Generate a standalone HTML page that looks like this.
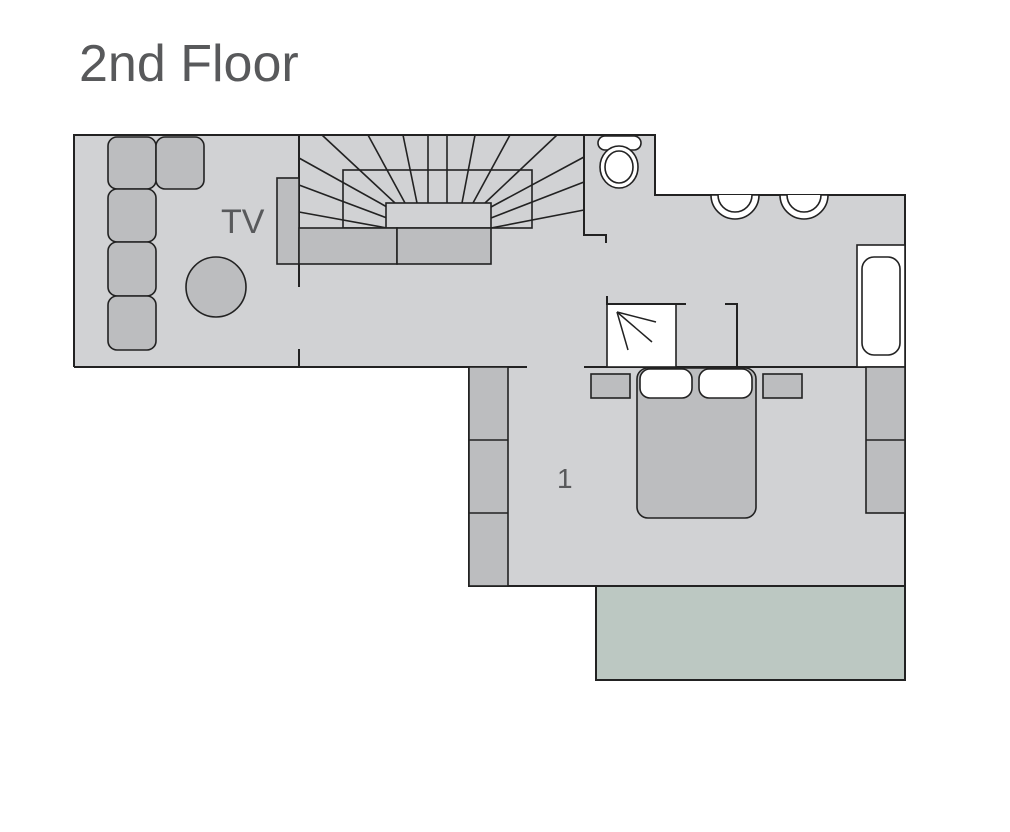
<!DOCTYPE html>
<html><head><style>body{margin:0;background:#fff}svg{display:block}</style></head><body>
<svg width="1010" height="832" viewBox="0 0 1010 832" xmlns="http://www.w3.org/2000/svg" font-family="Liberation Sans, sans-serif">
<text x="79" y="81" font-size="52" fill="#58595b">2nd Floor</text>
<rect x="596" y="586" width="309" height="94" fill="#bcc8c2" stroke="#222" stroke-width="2"/>
<polygon points="74,135 655,135 655,195 905,195 905,586 469,586 469,367 74,367" fill="#d1d2d4" stroke="none"/>
<g stroke="#222" stroke-width="2" fill="none">
<polyline points="74,367 74,135 655,135 655,195 905,195 905,586 469,586 469,367 527,367"/>
<line x1="74" y1="367" x2="469" y2="367"/>
<line x1="584" y1="367" x2="905" y2="367"/>
<line x1="299" y1="135" x2="299" y2="287"/>
<line x1="299" y1="349" x2="299" y2="367"/>
<polyline points="584,135 584,235 606,235 606,243"/>
</g>
<g stroke="#222" stroke-width="1.6">
<rect x="277" y="178" width="22" height="86" fill="#bcbdbf"/>
<rect x="343" y="170" width="189" height="58" fill="none"/>
<line x1="322" y1="135" x2="395" y2="203"/><line x1="368" y1="135" x2="405" y2="203"/>
<line x1="403" y1="135" x2="417" y2="203"/><line x1="428" y1="135" x2="428" y2="203"/>
<line x1="447" y1="135" x2="447" y2="203"/><line x1="475" y1="135" x2="462" y2="203"/>
<line x1="510" y1="135" x2="473" y2="203"/><line x1="557" y1="135" x2="485" y2="203"/>
<line x1="299" y1="158" x2="387" y2="207"/><line x1="299" y1="185" x2="387" y2="218"/><line x1="299" y1="212" x2="387" y2="228"/>
<line x1="584" y1="157" x2="491" y2="207"/><line x1="584" y1="182" x2="491" y2="218"/><line x1="584" y1="210" x2="491" y2="228"/>
<rect x="386" y="203" width="105" height="25" fill="#d1d2d4"/>
<rect x="299" y="228" width="98" height="36" fill="#bcbdbf"/>
<rect x="397" y="228" width="94" height="36" fill="#bcbdbf"/>
</g>
<g stroke="#222" stroke-width="1.6" fill="#bcbdbf">
<rect x="108" y="137" width="48" height="52" rx="9"/>
<rect x="156" y="137" width="48" height="52" rx="9"/>
<rect x="108" y="189" width="48" height="53" rx="9"/>
<rect x="108" y="242" width="48" height="54" rx="9"/>
<rect x="108" y="296" width="48" height="54" rx="9"/>
<circle cx="216" cy="287" r="30"/>
</g>
<text x="221" y="233" font-size="34" fill="#58595b">TV</text>
<g stroke="#222" stroke-width="1.6" fill="#fff">
<rect x="598" y="136" width="43" height="14" rx="7"/>
<ellipse cx="619" cy="167" rx="19" ry="21"/>
<ellipse cx="619" cy="167" rx="14" ry="16"/>
<path d="M711,195 A24,24 0 0 0 759,195 Z"/>
<path d="M718,195 A17,17 0 0 0 752,195"/>
<path d="M780,195 A24,24 0 0 0 828,195 Z"/>
<path d="M787,195 A17,17 0 0 0 821,195"/>
<rect x="857" y="245" width="48" height="122"/>
<rect x="862" y="257" width="38" height="98" rx="12"/>
<rect x="607" y="304" width="69" height="63"/>
</g>
<g stroke="#222" stroke-width="2" fill="none">
<polyline points="607,296 607,304 686,304"/>
<polyline points="725,304 737,304 737,367"/>
</g>
<g stroke="#222" stroke-width="1.5">
<line x1="617" y1="312" x2="656" y2="322"/><line x1="617" y1="312" x2="652" y2="342"/><line x1="617" y1="312" x2="628" y2="350"/>
</g>
<g stroke="#222" stroke-width="1.6" fill="#bcbdbf">
<rect x="469" y="367" width="39" height="219"/>
<line x1="469" y1="440" x2="508" y2="440"/><line x1="469" y1="513" x2="508" y2="513"/>
<rect x="866" y="367" width="39" height="146"/>
<line x1="866" y1="440" x2="905" y2="440"/>
<rect x="591" y="374" width="39" height="24"/>
<rect x="763" y="374" width="39" height="24"/>
<rect x="637" y="368" width="119" height="150" rx="11"/>
<rect x="640" y="369" width="52" height="29" rx="10" fill="#fff"/>
<rect x="699" y="369" width="53" height="29" rx="10" fill="#fff"/>
</g>
<text x="557" y="488" font-size="28" fill="#58595b">1</text>
</svg>
</body></html>
